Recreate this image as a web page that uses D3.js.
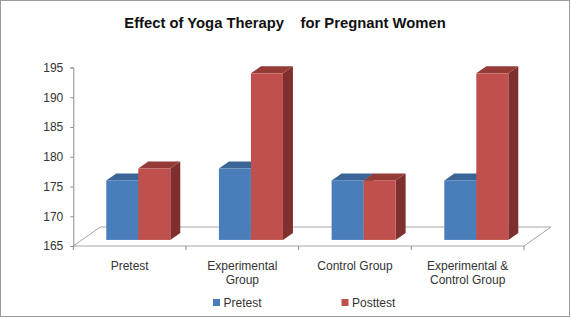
<!DOCTYPE html>
<html>
<head>
<meta charset="utf-8">
<script src="https://cdn.jsdelivr.net/npm/d3@7"></script>
<style>
  body { margin: 0; background: #fff; }
  svg text { font-family: "Liberation Sans", Arial, sans-serif; fill: #333; }
</style>
</head>
<body>
<div id="chart"></div>
<script>
// --------------------------------------
//  Data
// --------------------------------------

const categories = [["Pretest"], ["Experimental", "Group"], ["Control Group"], ["Experimental &", "Control Group"]];
const series = ["Pretest", "Posttest"];
const pretestValues = [175, 177, 175, 175];
const posttestValues = [177, 193, 175, 193];
const yTicks = [165, 170, 175, 180, 185, 190, 195];

const colors = {
  Pretest: {front: "#4a7ebb", top: "#3a6597", side: "#2f5480"},
  Posttest: {front: "#c0504d", top: "#943a37", side: "#7f2f2d"}
};

// --------------------------------------
//  Canvas
// --------------------------------------

const width = 571;
const height = 318;

const svg = d3.select("#chart")
  .append("svg")
    .attr("width", width)
    .attr("height", height);

svg.append("rect")
    .attr("x", 0.5).attr("y", 0.5)
    .attr("width", width - 2).attr("height", height - 2)
    .attr("fill", "#fff")
    .attr("stroke", "#9a9a9a");

svg.append("text")
    .attr("x", 285)
    .attr("y", 28)
    .attr("text-anchor", "middle")
    .attr("font-size", 14.8)
    .attr("font-weight", "bold")
    .style("fill", "#111")
    .style("white-space", "pre")
    .text("Effect of Yoga Therapy    for Pregnant Women");

// --------------------------------------
//  Scales (oblique 3D projection)
// --------------------------------------

const left = 73.3, right = 524, floorY = 246;
const depth = {dx: 27, dy: -19};

const x0 = d3.scaleBand()
    .domain(d3.range(categories.length))
    .range([left, right])
    .padding(0);

const x1 = d3.scaleBand()
    .domain(series)
    .range([0, x0.bandwidth()])
    .paddingInner(0)
    .paddingOuter(0.76);

const y = d3.scaleLinear()
    .domain([165, 195])
    .range([floorY, 67.5]);

const proj = (px, v, d) => [px + d * depth.dx, y(v) + d * depth.dy];

// --------------------------------------
//  Floor and axes
// --------------------------------------

const floor = [proj(left, 165, 0), proj(right, 165, 0), proj(right, 165, 1), proj(left, 165, 1)];
svg.append("polygon")
    .attr("points", floor.map(p => p.join(",")).join(" "))
    .attr("fill", "none")
    .attr("stroke", "#a6a6a6")
    .attr("stroke-width", 1);

const yAxis = svg.append("g")
    .attr("transform", `translate(${left}, 0)`)
    .call(d3.axisLeft(y).tickValues(yTicks).tickSize(3).tickPadding(7));
yAxis.select(".domain").attr("stroke", "#8c8c8c");
yAxis.selectAll(".tick line").attr("stroke", "#8c8c8c");
yAxis.selectAll("text")
    .attr("font-size", 12)
    .style("font-family", "Liberation Sans, Arial, sans-serif")
    .style("fill", "#333");

// category ticks along front edge
svg.append("g")
  .selectAll("line")
  .data(d3.range(categories.length + 1))
  .join("line")
    .attr("x1", i => left + i * x0.step())
    .attr("x2", i => left + i * x0.step())
    .attr("y1", floorY)
    .attr("y2", floorY + 4)
    .attr("stroke", "#8c8c8c");

// category labels
svg.append("g")
  .selectAll("text")
  .data(categories)
  .join("text")
    .attr("x", (d, i) => x0(i) + x0.bandwidth() / 2)
    .attr("y", 269.5)
    .attr("text-anchor", "middle")
    .attr("font-size", 12)
  .selectAll("tspan")
  .data(d => d)
  .join("tspan")
    .attr("x", function() { return this.parentNode.getAttribute("x"); })
    .attr("dy", (d, i) => i === 0 ? 0 : 14.5)
    .text(d => d);

// --------------------------------------
//  Bars
// --------------------------------------

const bars = [];
categories.forEach((c, i) => {
  bars.push({cat: i, s: "Pretest", v: pretestValues[i]});
  bars.push({cat: i, s: "Posttest", v: posttestValues[i]});
});

const d0 = 0.32, d1 = 0.69;
const pts = arr => arr.map(p => p.join(",")).join(" ");

const barG = svg.append("g")
  .selectAll("g")
  .data(bars)
  .join("g");

barG.each(function(d) {
  const g = d3.select(this);
  const xa = x0(d.cat) + x1(d.s);
  const xb = xa + x1.bandwidth();
  // side face
  g.append("polygon")
      .attr("points", pts([proj(xb, 165, d0), proj(xb, 165, d1), proj(xb, d.v, d1), proj(xb, d.v, d0)]))
      .attr("fill", colors[d.s].side);
  // top face
  g.append("polygon")
      .attr("points", pts([proj(xa, d.v, d0), proj(xb, d.v, d0), proj(xb, d.v, d1), proj(xa, d.v, d1)]))
      .attr("fill", colors[d.s].top);
  // front face
  const [fx, fy] = proj(xa, d.v, d0);
  const [, by] = proj(xa, 165, d0);
  g.append("rect")
      .attr("x", fx)
      .attr("y", fy)
      .attr("width", x1.bandwidth())
      .attr("height", by - fy)
      .attr("fill", colors[d.s].front);
});

// --------------------------------------
//  Legend
// --------------------------------------

const legend = svg.append("g")
  .selectAll("g")
  .data(series)
  .join("g")
    .attr("transform", (d, i) => `translate(${213 + i * 128.5}, 299)`);

legend.append("rect")
    .attr("width", 7)
    .attr("height", 7)
    .attr("fill", d => colors[d].front);

legend.append("text")
    .attr("x", 10.5)
    .attr("y", 7.5)
    .attr("font-size", 12)
    .text(d => d);
</script>
</body>
</html>
